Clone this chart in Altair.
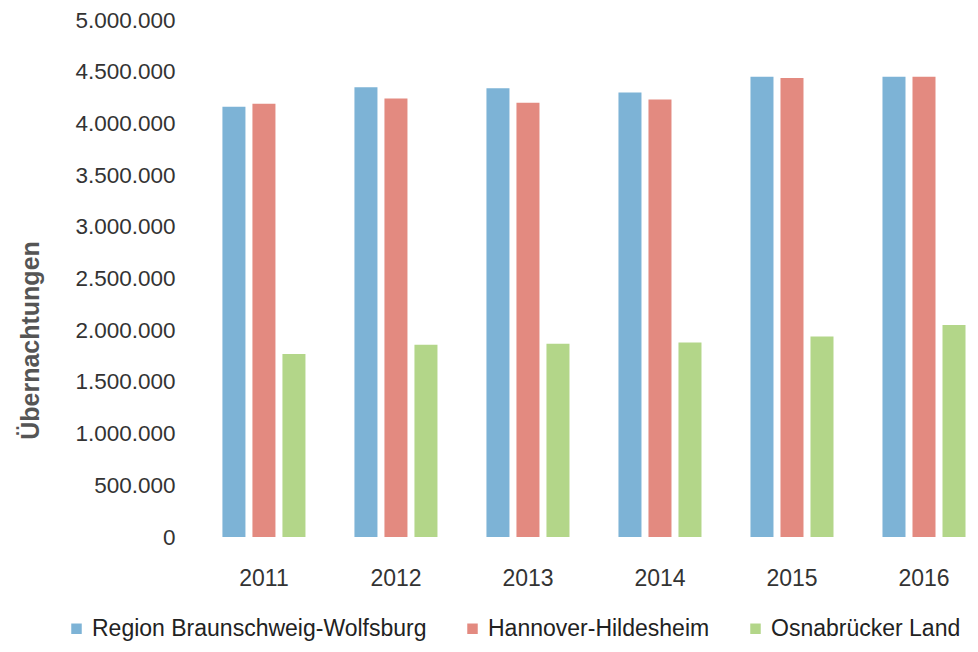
import altair as alt
import pandas as pd

years = ["2011", "2012", "2013", "2014", "2015", "2016"]
series = ["Region Braunschweig-Wolfsburg", "Hannover-Hildesheim", "Osnabrücker Land"]
braunschweig = [4160000, 4350000, 4340000, 4300000, 4450000, 4450000]
hannover = [4190000, 4240000, 4200000, 4230000, 4440000, 4450000]
osnabrueck = [1770000, 1860000, 1870000, 1880000, 1940000, 2050000]
colors = ["#7DB3D6", "#E38A80", "#B3D689"]
y_ticks = [0, 500000, 1000000, 1500000, 2000000, 2500000, 3000000, 3500000, 4000000, 4500000, 5000000]

rows = []
for name, vals in zip(series, [braunschweig, hannover, osnabrueck]):
    for y, v in zip(years, vals):
        rows.append({"Jahr": y, "Region": name, "Wert": v})
df = pd.DataFrame(rows)

FONT = "Liberation Sans, Arial, sans-serif"

chart = alt.Chart(df).mark_bar().encode(
    x=alt.X("Jahr:N", sort=years,
            scale=alt.Scale(paddingInner=0.318, paddingOuter=0.083, align=0.955),
            axis=alt.Axis(title=None, labelAngle=0, domain=False, ticks=False,
                          labelPadding=30, labelFontSize=23, labelColor="#333333",
                          labelFont=FONT)),
    xOffset=alt.XOffset("Region:N", sort=series,
                        scale=alt.Scale(paddingInner=0.233, paddingOuter=0.1167)),
    y=alt.Y("Wert:Q", scale=alt.Scale(domain=[0, 5000000], nice=False),
            axis=alt.Axis(title="Übernachtungen", values=y_ticks, format=",d",
                          grid=False, domain=False, ticks=False,
                          labelPadding=23, labelFontSize=22.5, labelColor="#333333",
                          labelFont=FONT,
                          titleFont=FONT, titleFontSize=25, titleFontWeight="bold",
                          titleColor="#555555", titleAngle=270,
                          titleX=-168, titleY=320, titleAlign="center",
                          titleBaseline="middle")),
    color=alt.Color("Region:N", sort=series,
                    scale=alt.Scale(domain=series, range=colors),
                    legend=alt.Legend(title=None, orient="none", direction="horizontal",
                                      legendX=-133, legendY=597,
                                      symbolType="square", symbolSize=110,
                                      symbolStrokeWidth=0, symbolOpacity=1,
                                      labelFont=FONT, labelFontSize=23, labelLimit=0,
                                      labelColor="#222222", labelOffset=4,
                                      columnPadding=34)),
).properties(
    width=772, height=517,
    padding={"left": 190, "top": 12, "right": 0, "bottom": 105},
    autosize=alt.AutoSizeParams(type="none"),
).configure_view(stroke=None)

chart.save("out.html", embed_options={
    "renderer": "svg", "actions": False,
    "formatLocale": {"decimal": ",", "thousands": ".", "grouping": [3], "currency": ["", " €"]},
})
